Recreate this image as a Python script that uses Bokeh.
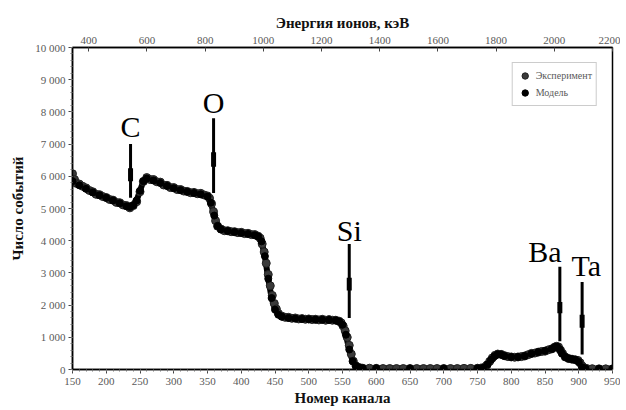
from bokeh.plotting import figure
from bokeh.models import LinearAxis, Range1d, Legend, LegendItem, FixedTicker
from bokeh.embed import file_html
from bokeh.resources import INLINE
from bokeh.core.properties import value

# ---- data ----
exp_channels = [150, 153, 156, 160, 165, 170, 175, 180, 185, 190, 195, 200, 205, 210, 215, 220,
                225, 230, 235, 240, 245, 250, 255, 260, 265, 270, 275, 280, 285, 290, 295, 300,
                305, 310, 315, 320, 325, 330, 335, 340, 345, 350, 353, 356, 359, 362, 365, 370,
                375, 380, 385, 390, 395, 400, 405, 410, 415, 420, 425, 428, 431, 434, 437, 440,
                443, 446, 449, 452, 455, 460, 465, 470, 475, 480, 485, 490, 495, 500, 505, 510,
                515, 520, 525, 530, 535, 540, 545, 548, 551, 554, 557, 560, 563, 566, 570, 575,
                580, 590, 600, 610, 620, 630, 640, 650, 660, 670, 680, 690, 700, 710, 720, 730,
                740, 750, 755, 760, 764, 768, 772, 776, 780, 785, 790, 795, 800, 805, 810, 815,
                820, 825, 830, 835, 840, 845, 850, 855, 860, 864, 867, 870, 873, 876, 880, 885,
                890, 895, 899, 902, 905, 908, 912, 920, 930, 940, 950]
experiment = [6080, 5900, 5780, 5760, 5690, 5640, 5560, 5520, 5440, 5430, 5370, 5340, 5280, 5260, 5190, 5180,
              5110, 5090, 5020, 5090, 5210, 5520, 5840, 5960, 5900, 5900, 5830, 5820, 5730, 5720, 5650, 5650,
              5590, 5590, 5540, 5530, 5490, 5500, 5460, 5470, 5420, 5390, 5320, 5150, 4900, 4620, 4450, 4360,
              4310, 4310, 4280, 4280, 4250, 4260, 4220, 4230, 4190, 4190, 4140, 4080, 3900, 3650, 3300, 2950,
              2600, 2300, 2050, 1880, 1740, 1660, 1620, 1620, 1590, 1600, 1570, 1580, 1560, 1570, 1550, 1560,
              1540, 1560, 1530, 1550, 1530, 1530, 1500, 1450, 1350, 1200, 1000, 750, 480, 260, 110, 60,
              40, 40, 35, 30, 30, 30, 30, 30, 30, 30, 30, 30, 30, 30, 30, 35,
              35, 40, 45, 70, 140, 250, 360, 440, 480, 470, 430, 400, 390, 380, 390, 400,
              420, 460, 500, 510, 540, 560, 570, 610, 640, 690, 720, 700, 600, 500, 390, 340,
              320, 300, 280, 210, 110, 50, 30, 25, 20, 20, 20]

model_channels = [150, 160, 170, 180, 190, 200, 210, 220, 230, 235, 240, 245, 250, 255, 260, 270,
                  280, 290, 300, 310, 320, 330, 340, 350, 355, 360, 365, 370, 380, 390, 400, 410,
                  420, 425, 430, 435, 440, 445, 450, 455, 460, 470, 480, 490, 500, 510, 520, 530,
                  540, 545, 550, 555, 560, 565, 570, 575, 580, 600, 650, 700, 750, 758, 765, 770,
                  775, 780, 785, 790, 800, 810, 820, 830, 840, 850, 860, 865, 868, 872, 875, 880,
                  885, 890, 895, 900, 905, 910, 930, 950]
model = [5850, 5720, 5610, 5500, 5410, 5330, 5250, 5160, 5070, 5050, 5100, 5250, 5550, 5850, 5930, 5870,
         5790, 5700, 5630, 5570, 5520, 5480, 5440, 5370, 5180, 4780, 4460, 4350, 4300, 4270, 4240, 4210,
         4170, 4130, 3980, 3520, 2820, 2220, 1860, 1700, 1640, 1600, 1580, 1570, 1560, 1550, 1545, 1540,
         1525, 1490, 1390, 1080, 620, 260, 110, 55, 40, 35, 30, 30, 35, 50, 160, 300,
         410, 470, 460, 420, 390, 390, 420, 490, 540, 580, 640, 700, 710, 620, 500, 390,
         340, 320, 300, 230, 70, 30, 20, 20]

elements = ["C", "O", "Si", "Ba", "Ta"]
element_channels = [236, 359, 560, 872, 905]
element_top = [7000, 7800, 3900, 3190, 2720]
element_bottom = [5330, 5480, 1600, 880, 465]
element_mark_top = [6250, 6750, 2850, 2100, 1700]
element_mark_bottom = [5850, 6300, 2450, 1750, 1300]
label_channels = [236, 359, 560, 850, 911]
label_y = [7025, 7795, 3800, 3165, 2725]

channel_ticks = list(range(150, 951, 50))
count_ticks = list(range(0, 10001, 1000))
energy_ticks = list(range(400, 2201, 200))
energy_start, energy_end = 344, 2200

TICK_FONT = "Liberation Sans Narrow"
TICK_COLOR = "#595959"
SERIF = "Liberation Serif"

p = figure(width=620, height=408, x_range=(150, 950), y_range=(0, 10000),
           output_backend="svg", toolbar_location=None,
           min_border_left=72, min_border_right=8, min_border_top=47, min_border_bottom=37)
p.extra_x_ranges = {"energy": Range1d(start=energy_start, end=energy_end)}
p.grid.visible = False
p.outline_line_color = "black"
p.outline_line_width = 1.5
p.background_fill_color = "white"
p.border_fill_color = "white"

# axes
p.xaxis.ticker = FixedTicker(ticks=channel_ticks,
                             minor_ticks=list(range(150, 951, 10)))
p.yaxis.ticker = FixedTicker(ticks=count_ticks,
                             minor_ticks=list(range(0, 10001, 200)))
p.yaxis.major_label_overrides = {t: f"{t:,}".replace(",", " ") for t in count_ticks}
for ax in (p.xaxis[0], p.yaxis[0]):
    ax.axis_line_color = "black"
    ax.axis_line_width = 1.5
    ax.major_tick_line_color = "#444444"
    ax.minor_tick_line_color = "#777777"
    ax.major_tick_out = 4
    ax.major_tick_in = 0
    ax.minor_tick_out = 2
    ax.minor_tick_in = 0
    ax.major_label_text_font = TICK_FONT
    ax.major_label_text_font_size = "11px"
    ax.major_label_text_color = TICK_COLOR
    ax.axis_label_text_font = SERIF
    ax.axis_label_text_font_style = "bold"
    ax.axis_label_text_color = "#111111"
    ax.axis_label_text_font_size = "15px"
p.xaxis.axis_label = "Номер канала"
p.xaxis.major_label_standoff = 4
p.xaxis.axis_label_standoff = 2
p.yaxis.axis_label = "Число событий"
p.yaxis.major_label_standoff = 3
p.yaxis.axis_label_standoff = 6

top = LinearAxis(x_range_name="energy", ticker=FixedTicker(ticks=energy_ticks),
                 axis_label="Энергия ионов, кэВ")
top.axis_line_color = "black"
top.axis_line_width = 1.5
top.major_tick_in = 4
top.major_tick_out = 0
top.minor_tick_in = 0
top.minor_tick_out = 0
top.major_tick_line_color = "#444444"
top.major_label_text_font = TICK_FONT
top.major_label_text_font_size = "11px"
top.major_label_text_color = TICK_COLOR
top.major_label_standoff = 4
top.axis_label_text_font = SERIF
top.axis_label_text_font_style = "bold"
top.axis_label_text_font_size = "15px"
top.axis_label_text_color = "#111111"
top.axis_label_standoff = 3
p.add_layout(top, "above")

# series
p.line(model_channels, model, line_color="black", line_width=6, line_join="round")
r_exp = p.scatter(exp_channels, experiment, size=8, marker="circle",
                  fill_color="#3a3a3a", line_color="#222222")
r_mod = p.scatter(model_channels, model, size=7, marker="circle",
                  fill_color="black", line_color="black")

# element markers
p.segment(x0=element_channels, y0=element_bottom, x1=element_channels, y1=element_top,
          line_color="black", line_width=3)
p.segment(x0=element_channels, y0=element_mark_bottom, x1=element_channels, y1=element_mark_top,
          line_color="black", line_width=5)
p.text(x=label_channels, y=label_y, text=elements, text_font=value(SERIF),
       text_font_size="30px", text_align="center", text_baseline="bottom",
       text_color="black")

legend = Legend(items=[LegendItem(label="Эксперимент", renderers=[r_exp]),
                       LegendItem(label="Модель", renderers=[r_mod])],
                location="top_right")
legend.margin = 15
legend.padding = 4
legend.spacing = 0
legend.glyph_width = 16
legend.glyph_height = 17
legend.label_height = 17
legend.label_standoff = 3
legend.label_text_font = TICK_FONT
legend.label_text_font_size = "10px"
legend.label_text_color = TICK_COLOR
legend.border_line_color = "#999999"
legend.border_line_width = 1.5
legend.background_fill_color = "white"
p.add_layout(legend)

open("out.html", "w").write(file_html(p, INLINE))
